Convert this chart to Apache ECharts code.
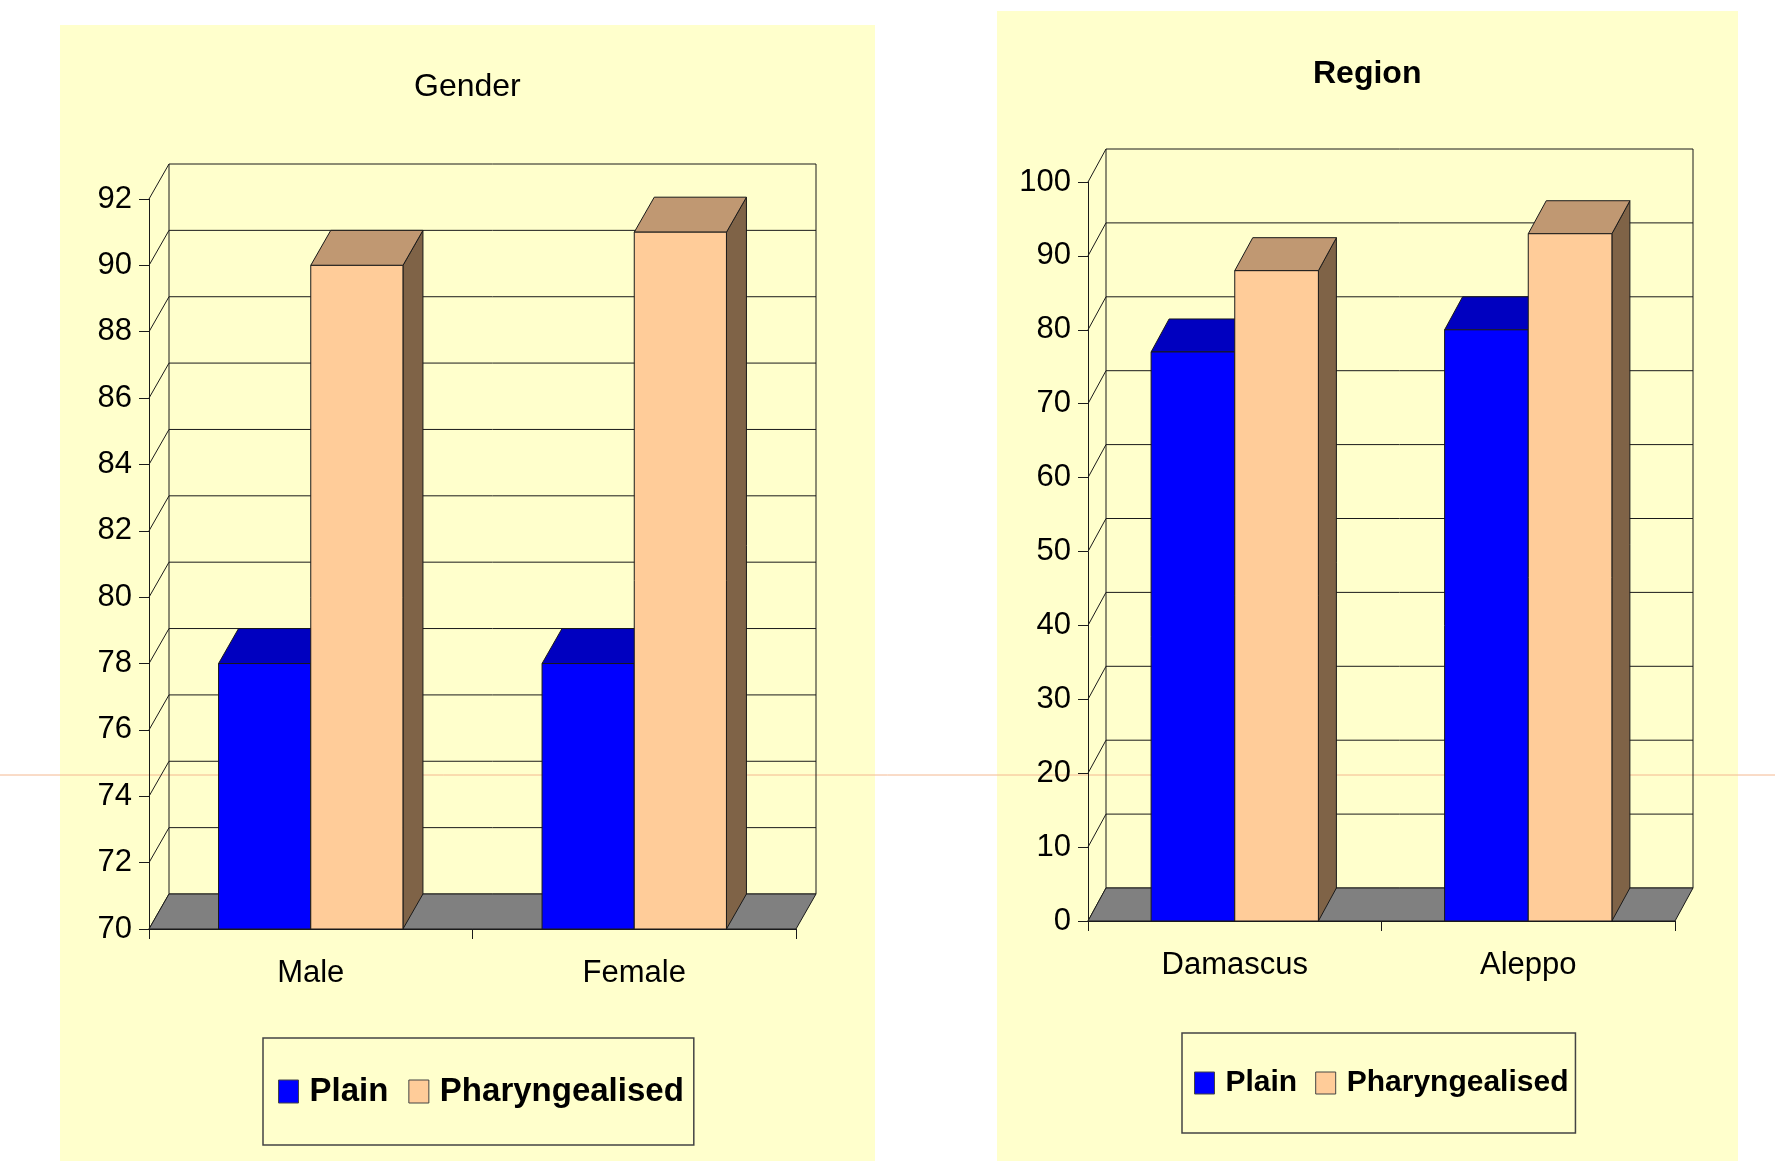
<!DOCTYPE html>
<html>
<head>
<meta charset="utf-8">
<script src="https://cdn.jsdelivr.net/npm/echarts@6/dist/echarts.min.js"></script>
<style>
html,body{margin:0;padding:0;background:#ffffff;}
#chart{width:1775px;height:1161px;}
</style>
</head>
<body>
<div id="chart"></div>
<script>
// ---- data ----
const seriesNames = ['Plain', 'Pharyngealised'];
const genderCategories = ['Male', 'Female'];
const genderPlain = [78, 78];
const genderPharyngealised = [90, 91];
const genderTicks = [70, 72, 74, 76, 78, 80, 82, 84, 86, 88, 90, 92];

const regionCategories = ['Damascus', 'Aleppo'];
const regionPlain = [77, 80];
const regionPharyngealised = [88, 93];
const regionTicks = [0, 10, 20, 30, 40, 50, 60, 70, 80, 90, 100];

// ---- styles ----
const FONT = "'Liberation Sans', Arial, sans-serif";
const EDGE = '#1a1a1a';
const plainColors = { front: '#0000FF', top: '#0000C0', side: '#000080' };
const pharColors = { front: '#FFCC99', top: '#C09872', side: '#7F6347' };

function wallRenderer(dx, dy) {
  return function (params, api) {
    const cs = params.coordSys;
    const y = api.coord([0, api.value(1)])[1];
    const x0 = cs.x, x1 = cs.x + cs.width;
    const st = { stroke: EDGE, lineWidth: 1 };
    const children = [
      { type: 'line', shape: { x1: x0, y1: y, x2: x0 + dx, y2: y - dy }, style: st },
      { type: 'line', shape: { x1: x0 + dx, y1: y - dy, x2: x1 + dx, y2: y - dy }, style: st }
    ];
    if (params.dataIndex === 0) {
      children.push({ type: 'line', shape: { x1: x0 + dx, y1: cs.y - dy, x2: x0 + dx, y2: cs.y + cs.height - dy }, style: st });
      children.push({ type: 'line', shape: { x1: x1 + dx, y1: cs.y - dy, x2: x1 + dx, y2: cs.y + cs.height - dy }, style: st });
    }
    return { type: 'group', children: children };
  };
}

function floorRenderer(dx, dy) {
  return function (params, api) {
    const cs = params.coordSys;
    const yb = api.coord([0, api.value(1)])[1];
    const x0 = cs.x, x1 = cs.x + cs.width;
    return {
      type: 'polygon',
      shape: { points: [[x0, yb], [x1, yb], [x1 + dx, yb - dy], [x0 + dx, yb - dy]] },
      style: { fill: '#808080', stroke: EDGE, lineWidth: 1 }
    };
  };
}

function barRenderer(side, colors, dx, dy, minV) {
  return function (params, api) {
    const idx = api.value(0), v = api.value(1);
    const top = api.coord([idx, v]);
    const base = api.coord([idx, minV]);
    const band = api.size([1, 0])[0];
    const w = band * 0.285;
    const xl = side < 0 ? top[0] - w : top[0];
    const xr = xl + w;
    const yt = top[1], yb = base[1];
    const st = (f) => ({ fill: f, stroke: EDGE, lineWidth: 1 });
    return {
      type: 'group',
      children: [
        { type: 'polygon', shape: { points: [[xr, yt], [xr + dx, yt - dy], [xr + dx, yb - dy], [xr, yb]] }, style: st(colors.side) },
        { type: 'polygon', shape: { points: [[xl, yt], [xr, yt], [xr + dx, yt - dy], [xl + dx, yt - dy]] }, style: st(colors.top) },
        { type: 'rect', shape: { x: xl, y: yt, width: w, height: yb - yt }, style: st(colors.front) }
      ]
    };
  };
}

function xAxisFor(gridIndex, cats) {
  return {
    type: 'category', gridIndex: gridIndex, data: cats, boundaryGap: true,
    axisLine: { show: true, lineStyle: { color: EDGE, width: 1 } },
    axisTick: { show: true, length: 10, lineStyle: { color: EDGE } },
    axisLabel: { color: '#000', fontSize: 31, fontFamily: FONT, margin: 29 },
    splitLine: { show: false }
  };
}
function yAxisFor(gridIndex, min, max, interval) {
  return {
    type: 'value', gridIndex: gridIndex, min: min, max: max, interval: interval,
    axisLine: { show: true, lineStyle: { color: EDGE, width: 1 } },
    axisTick: { show: true, length: 10, lineStyle: { color: EDGE } },
    axisLabel: { color: '#000', fontSize: 31, fontFamily: FONT, margin: 17 },
    splitLine: { show: false }
  };
}

const GD = { dx: 20, dy: 35 };
const RD = { dx: 18, dy: 33 };

const legendCommon = {
  orient: 'horizontal', icon: 'rect', itemWidth: 20, itemHeight: 23, itemGap: 20,
  selectedMode: false, borderColor: '#444', borderWidth: 1.5,
  textStyle: { color: '#000', fontWeight: 'bold', fontFamily: FONT, padding: [0, 0, 0, 6] },
  data: [
    { name: 'Plain', itemStyle: { color: plainColors.front, borderColor: '#444', borderWidth: 1 } },
    { name: 'Pharyngealised', itemStyle: { color: pharColors.front, borderColor: '#444', borderWidth: 1 } }
  ]
};

const option = {
  animation: false,
  backgroundColor: '#ffffff',
  graphic: [
    { type: 'rect', z: -10, shape: { x: 60, y: 25, width: 815, height: 1136 }, style: { fill: '#FFFFCC' } },
    { type: 'rect', z: -10, shape: { x: 997, y: 11, width: 741, height: 1150 }, style: { fill: '#FFFFCC' } },
    { type: 'line', z: -9, shape: { x1: 0, y1: 775, x2: 1775, y2: 775 }, style: { stroke: '#F4B890', lineWidth: 1 } }
  ],
  title: [
    { text: 'Gender', left: 409, top: 66, textStyle: { fontSize: 32, fontWeight: 'normal', color: '#000', fontFamily: FONT } },
    { text: 'Region', left: 1308, top: 53, textStyle: { fontSize: 32, fontWeight: 'bold', color: '#000', fontFamily: FONT } }
  ],
  legend: [
    Object.assign({}, legendCommon, { left: 263, top: 1038, padding: [37, 10, 37, 15],
      textStyle: Object.assign({}, legendCommon.textStyle, { fontSize: 33 }) }),
    Object.assign({}, legendCommon, { left: 1182, top: 1033, padding: [35, 7, 35, 12], itemHeight: 22, itemGap: 18,
      textStyle: Object.assign({}, legendCommon.textStyle, { fontSize: 30 }) })
  ],
  grid: [
    { left: 149, top: 199, width: 647, height: 730, containLabel: false },
    { left: 1088, top: 182, width: 587, height: 739, containLabel: false }
  ],
  xAxis: [xAxisFor(0, genderCategories), xAxisFor(1, regionCategories)],
  yAxis: [yAxisFor(0, 70, 92, 2), yAxisFor(1, 0, 100, 10)],
  series: [
    { name: 'wallG', type: 'custom', xAxisIndex: 0, yAxisIndex: 0, z: 2, silent: true,
      renderItem: wallRenderer(GD.dx, GD.dy), encode: { x: 0, y: 1 },
      data: genderTicks.map(v => [0, v]) },
    { name: 'floorG', type: 'custom', xAxisIndex: 0, yAxisIndex: 0, z: 2, silent: true,
      renderItem: floorRenderer(GD.dx, GD.dy), encode: { x: 0, y: 1 },
      data: [[0, genderTicks[0]]] },
    { name: 'Plain', type: 'custom', xAxisIndex: 0, yAxisIndex: 0, z: 3,
      itemStyle: { color: plainColors.front },
      renderItem: barRenderer(-1, plainColors, GD.dx, GD.dy, genderTicks[0]), encode: { x: 0, y: 1 },
      data: genderPlain.map((v, i) => [i, v]) },
    { name: 'Pharyngealised', type: 'custom', xAxisIndex: 0, yAxisIndex: 0, z: 3,
      itemStyle: { color: pharColors.front },
      renderItem: barRenderer(1, pharColors, GD.dx, GD.dy, genderTicks[0]), encode: { x: 0, y: 1 },
      data: genderPharyngealised.map((v, i) => [i, v]) },

    { name: 'wallR', type: 'custom', xAxisIndex: 1, yAxisIndex: 1, z: 2, silent: true,
      renderItem: wallRenderer(RD.dx, RD.dy), encode: { x: 0, y: 1 },
      data: regionTicks.map(v => [0, v]) },
    { name: 'floorR', type: 'custom', xAxisIndex: 1, yAxisIndex: 1, z: 2, silent: true,
      renderItem: floorRenderer(RD.dx, RD.dy), encode: { x: 0, y: 1 },
      data: [[0, regionTicks[0]]] },
    { name: 'Plain', type: 'custom', xAxisIndex: 1, yAxisIndex: 1, z: 3,
      itemStyle: { color: plainColors.front },
      renderItem: barRenderer(-1, plainColors, RD.dx, RD.dy, regionTicks[0]), encode: { x: 0, y: 1 },
      data: regionPlain.map((v, i) => [i, v]) },
    { name: 'Pharyngealised', type: 'custom', xAxisIndex: 1, yAxisIndex: 1, z: 3,
      itemStyle: { color: pharColors.front },
      renderItem: barRenderer(1, pharColors, RD.dx, RD.dy, regionTicks[0]), encode: { x: 0, y: 1 },
      data: regionPharyngealised.map((v, i) => [i, v]) }
  ]
};

const chart = echarts.init(document.getElementById('chart'), null, { renderer: 'canvas' });
chart.setOption(option);
</script>
</body>
</html>
